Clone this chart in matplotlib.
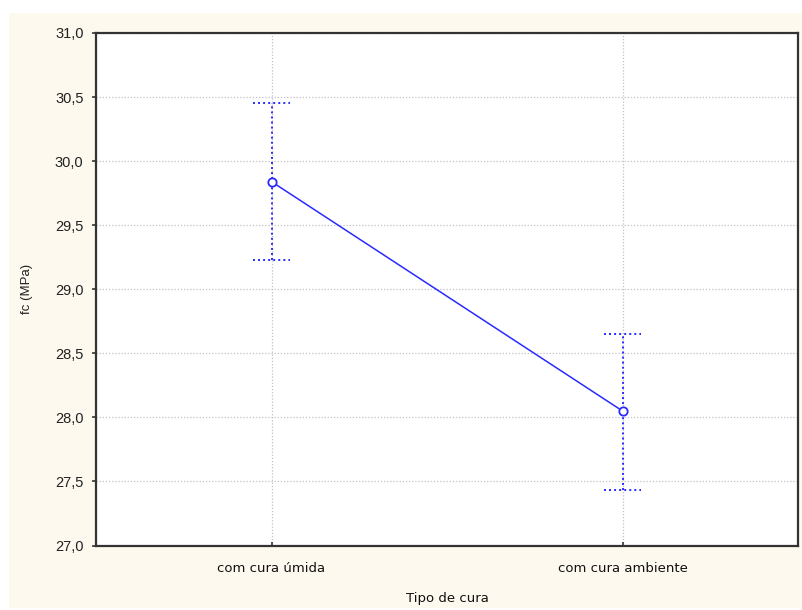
import matplotlib
matplotlib.use("Agg")
import matplotlib.pyplot as plt
from matplotlib.patches import Rectangle
from matplotlib.ticker import FuncFormatter

categories = ["com cura úmida", "com cura ambiente"]
means = [29.84, 28.05]
upper = [30.45, 28.65]
lower = [29.23, 27.43]
y_ticks = [27.0, 27.5, 28.0, 28.5, 29.0, 29.5, 30.0, 30.5, 31.0]

plt.rcParams["font.family"] = ["Liberation Sans", "DejaVu Sans"]

fig = plt.figure(figsize=(8.02, 6.10), dpi=100)
fig.patch.set_facecolor("white")
# cream panel behind the axes
fig.add_artist(Rectangle((9 / 802, 2 / 610), 1 - 9 / 802, (610 - 15) / 610,
                         transform=fig.transFigure, facecolor="#fdf9ee",
                         edgecolor="none", zorder=-10))

ax = fig.add_axes([96 / 802, (610 - 545.5) / 610, 702 / 802, 512.5 / 610])
ax.set_facecolor("white")

x = list(range(len(categories)))
blue = "#2a2aff"

# error bars (dotted) with dotted caps
for xi, lo, hi in zip(x, lower, upper):
    ax.plot([xi, xi], [lo, hi], color=blue, lw=1.4, ls=(0, (1, 1.6)), zorder=3)
    for yv in (lo, hi):
        ax.plot([xi - 0.053, xi + 0.053], [yv, yv], color=blue, lw=1.4,
                ls=(0, (1, 1.6)), zorder=3)

ax.plot(x, means, color=blue, lw=1.1, marker="o", markersize=6,
        markerfacecolor="white", markeredgecolor=blue, markeredgewidth=1.3, zorder=4)

ax.set_xlim(-0.5, 1.5)
ax.set_ylim(27.0, 31.0)
ax.set_yticks(y_ticks)
ax.yaxis.set_major_formatter(FuncFormatter(lambda v, p: f"{v:.1f}".replace(".", ",")))
ax.set_xticks(x)
ax.set_xticklabels(categories, fontsize=9.5, family="DejaVu Sans")

ax.grid(True, color="#c0c0c0", ls=(0, (1, 1.5)), lw=0.9)
ax.set_axisbelow(True)

ax.tick_params(axis="y", direction="out", length=3, width=1.2, color="#333333",
               labelsize=10.5, pad=6, labelcolor="#222222")
ax.tick_params(axis="x", direction="in", length=3, width=1.2, color="#333333",
               pad=12, labelcolor="#111111")

for s in ax.spines.values():
    s.set_color("#333333")
    s.set_linewidth(1.6)

ax.set_ylabel("fc (MPa)", fontsize=9.5, labelpad=16, color="#222222")
ax.set_xlabel("Tipo de cura", fontsize=9.5, labelpad=12, family="DejaVu Sans",
              color="#111111")

fig.savefig("out.png", dpi=100, facecolor=fig.get_facecolor())
